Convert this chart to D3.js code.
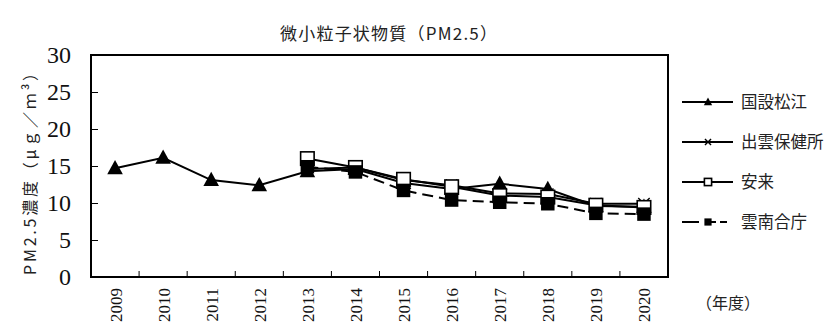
<!DOCTYPE html>
<html>
<head>
<meta charset="utf-8">
<script src="https://cdn.jsdelivr.net/npm/d3@7"></script>
<style>
  html, body { margin: 0; padding: 0; background: #fff; }
  svg { display: block; }
</style>
</head>
<body>
<svg id="chart" width="833" height="326"></svg>
<script>
// Fiscal years
const years = ["2009","2010","2011","2012","2013","2014","2015","2016","2017","2018","2019","2020"];
// Annual mean PM2.5 concentration (µg/m³) per monitoring station
const kokusetsuMatsue = [14.7, 16.1, 13.1, 12.4, 14.3, 14.6, 12.7, 11.9, 12.6, 11.9, 9.6, 9.5];
const izumoHokenjo    = [null, null, null, null, 14.6, 14.8, 13.1, 12.4, 11.3, 11.2, 9.9, 9.9];
const yasugi          = [null, null, null, null, 16.0, 14.8, 13.2, 12.2, 11.0, 10.8, 9.7, 9.4];
const unnanGocho      = [null, null, null, null, 14.9, 14.2, 11.7, 10.4, 10.1, 9.9, 8.6, 8.5];
const seriesNames = ["国設松江", "出雲保健所", "安来", "雲南合庁"];
const yTicks = [0, 5, 10, 15, 20, 25, 30];

const series = [
  { name: seriesNames[0], values: kokusetsuMatsue, marker: "triangle", dash: null },
  { name: seriesNames[1], values: izumoHokenjo,    marker: "cross",    dash: null },
  { name: seriesNames[2], values: yasugi,          marker: "openSquare", dash: null },
  { name: seriesNames[3], values: unnanGocho,      marker: "filledSquare", dash: "11,6" }
];

const svg = d3.select("#chart");
const plot = { left: 91, right: 668, top: 55, bottom: 277 };

const x = d3.scalePoint().domain(years).range([plot.left, plot.right]).padding(0.5);
const y = d3.scaleLinear().domain([0, 30]).range([plot.bottom, plot.top]);

const serifFont = "'Liberation Serif', 'DejaVu Serif', serif";
const cjkFont = "'Noto Sans CJK JP', 'Noto Sans', sans-serif";

// Title
svg.append("text")
  .attr("x", 280).attr("y", 40)
  .attr("font-family", cjkFont)
  .attr("font-size", 17)
  .attr("fill", "#222")
  .attr("textLength", 217)
  .attr("lengthAdjust", "spacing")
  .text("微小粒子状物質（PM2.5）");

// Y axis label
svg.append("text")
  .attr("transform", "translate(36,275) rotate(-90)")
  .attr("font-family", cjkFont)
  .attr("font-size", 16)
  .attr("fill", "#222")
  .attr("textLength", 210)
  .attr("lengthAdjust", "spacing")
  .text("PM2.5濃度（μｇ／ｍ³）");

// Y axis: inward ticks, large serif labels
const yAxis = d3.axisLeft(y).tickValues(yTicks).tickSize(-7).tickPadding(20);
const yG = svg.append("g").attr("transform", `translate(${plot.left},0)`).call(yAxis);
yG.select(".domain").remove();
yG.selectAll(".tick line").attr("stroke", "#000").attr("stroke-width", 1);
yG.selectAll(".tick text")
  .attr("font-family", serifFont)
  .attr("font-size", 24)
  .attr("fill", "#111");
yG.selectAll(".tick").filter(d => d === 0 || d === 30).select("line").remove();

// X axis: ticks between categories pointing up, labels rotated
const step = x.step();
const boundaries = years.slice(1).map(d => x(d) - step / 2);
svg.append("g").selectAll("line").data(boundaries).join("line")
  .attr("x1", d => d).attr("x2", d => d)
  .attr("y1", plot.bottom).attr("y2", plot.bottom - 6)
  .attr("stroke", "#000").attr("stroke-width", 1);

const xAxis = d3.axisBottom(x).tickSize(0).tickPadding(0);
const xG = svg.append("g").attr("transform", `translate(0,${plot.bottom})`).call(xAxis);
xG.select(".domain").remove();
xG.selectAll(".tick text")
  .attr("font-family", serifFont)
  .attr("font-size", 17)
  .attr("fill", "#111")
  .attr("text-anchor", "end")
  .attr("dy", null)
  .attr("y", null)
  .attr("transform", "translate(6,11) rotate(-90)");

// Frame
svg.append("rect")
  .attr("x", plot.left).attr("y", plot.top)
  .attr("width", plot.right - plot.left).attr("height", plot.bottom - plot.top)
  .attr("fill", "none").attr("stroke", "#000").attr("stroke-width", 2);

svg.append("text")
  .attr("x", 728).attr("y", 309)
  .attr("text-anchor", "middle")
  .attr("font-family", cjkFont)
  .attr("font-size", 16)
  .attr("fill", "#222")
  .text("（年度）");

function drawMarker(g, type, cx, cy, s) {
  if (type === "triangle") {
    g.append("path")
      .attr("d", `M${cx},${cy - s * 0.55} L${cx + s * 0.52},${cy + s * 0.4} L${cx - s * 0.52},${cy + s * 0.4} Z`)
      .attr("fill", "#000");
  } else if (type === "cross") {
    const r = s * 0.38;
    g.append("path")
      .attr("d", `M${cx - r},${cy - r} L${cx + r},${cy + r} M${cx - r},${cy + r} L${cx + r},${cy - r}`)
      .attr("stroke", "#000").attr("stroke-width", 1.4).attr("fill", "none");
  } else if (type === "openSquare") {
    const r = s * 0.45;
    g.append("rect")
      .attr("x", cx - r).attr("y", cy - r).attr("width", 2 * r).attr("height", 2 * r)
      .attr("fill", "#fff").attr("stroke", "#000").attr("stroke-width", 1.6);
  } else if (type === "filledSquare") {
    const r = s * 0.45;
    g.append("rect")
      .attr("x", cx - r).attr("y", cy - r).attr("width", 2 * r).attr("height", 2 * r)
      .attr("fill", "#000");
  }
}

const line = d3.line()
  .defined(d => d.v != null)
  .x(d => x(d.year))
  .y(d => y(d.v));

series.forEach(s => {
  const pts = years.map((yr, i) => ({ year: yr, v: s.values[i] }));
  const g = svg.append("g");
  g.append("path")
    .datum(pts)
    .attr("d", line)
    .attr("fill", "none")
    .attr("stroke", "#000")
    .attr("stroke-width", 2)
    .attr("stroke-dasharray", s.dash);
  pts.filter(d => d.v != null).forEach(d => {
    drawMarker(g, s.marker, x(d.year), y(d.v), 15);
  });
});

// Legend
const legend = svg.append("g");
series.forEach((s, i) => {
  const ly = 102 + i * 40;
  const g = legend.append("g");
  g.append("line")
    .attr("x1", 682).attr("x2", 733)
    .attr("y1", ly).attr("y2", ly)
    .attr("stroke", "#000").attr("stroke-width", 2)
    .attr("stroke-dasharray", s.dash ? "17,10,7,4,7" : null);
  drawMarker(g, s.marker, 708, ly, 8);
  g.append("text")
    .attr("x", 741).attr("y", ly + 6)
    .attr("font-family", cjkFont)
    .attr("font-size", 16.5)
    .attr("fill", "#222")
    .text(s.name);
});
</script>
</body>
</html>
